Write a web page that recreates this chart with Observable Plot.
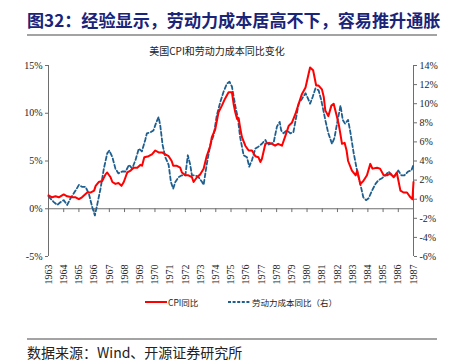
<!DOCTYPE html>
<html><head><meta charset="utf-8">
<script src="https://cdn.jsdelivr.net/npm/d3@7"></script>
<script src="https://cdn.jsdelivr.net/npm/@observablehq/plot@0.6"></script>
<style>
body{margin:0;background:#fff;}
#wrap{position:relative;width:453px;height:363px;overflow:hidden;font-family:"Noto Sans CJK SC",sans-serif;}
#title{position:absolute;left:27px;top:9px;font-size:17.1px;line-height:22px;font-weight:bold;color:#1a2478;white-space:nowrap;}
.rule{position:absolute;left:27px;width:410px;height:2px;background:#a3a3a3;}
#sub{position:absolute;left:0;width:434px;top:44px;line-height:14px;text-align:center;font-size:10px;color:#222;white-space:nowrap;}
#chart{position:absolute;left:0;top:40px;}
#chart svg text{font-family:"Liberation Serif","Times New Roman",serif !important;}
#legend{position:absolute;top:295px;left:0;width:453px;height:14px;font-size:8.5px;color:#222;}
#legend span{position:absolute;top:0;line-height:14px;white-space:nowrap;}
#legend svg{position:absolute;top:0;}
#src{position:absolute;left:27px;top:342px;font-size:14px;line-height:20px;color:#222;white-space:nowrap;}
</style></head>
<body>
<div id="wrap">
  <div id="title">图32：经验显示，劳动力成本居高不下，容易推升通胀</div>
  <div class="rule" style="top:34px"></div>
  <div id="sub">美国CPI和劳动力成本同比变化</div>
  <div id="chart"></div>
  <div id="legend">
    <svg width="25" height="14" style="left:144px"><line x1="1" y1="7" x2="23" y2="7" stroke="#ff0000" stroke-width="2"/></svg>
    <span style="left:168px">CPI同比</span>
    <svg width="25" height="14" style="left:227px"><line x1="1" y1="7" x2="23" y2="7" stroke="#1f5f8f" stroke-width="2" stroke-dasharray="3,1.6"/></svg>
    <span style="left:252px">劳动力成本同比（右）</span>
  </div>
  <div class="rule" style="top:338px"></div>
  <div id="src">数据来源：Wind、开源证券研究所</div>
</div>
<script>
const yearTicks = d3.range(1963, 1988);
const leftTicks = [-5, 0, 5, 10, 15];
const rightTicks = [-6, -4, -2, 0, 2, 4, 6, 8, 10, 12, 14];

const cpiYears = [1963.0,1963.24,1963.46,1963.68,1964.0,1964.23,1964.56,1964.78,1965.0,1965.2,1965.55,1965.76,1966.0,1966.1,1966.3,1966.53,1966.75,1966.86,1967.08,1967.2,1967.4,1967.6,1967.8,1967.95,1968.18,1968.4,1968.6,1968.84,1969.05,1969.15,1969.3,1969.58,1969.8,1970.02,1970.24,1970.46,1970.68,1970.9,1971.1,1971.2,1971.44,1971.66,1971.77,1972.0,1972.2,1972.43,1972.54,1972.76,1972.98,1973.2,1973.4,1973.64,1973.74,1973.96,1974.18,1974.4,1974.6,1974.84,1975.06,1975.17,1975.28,1975.4,1975.5,1975.6,1975.72,1975.94,1976.16,1976.38,1976.6,1976.8,1976.93,1977.03,1977.26,1977.5,1977.7,1977.9,1978.1,1978.35,1978.57,1978.8,1979.0,1979.23,1979.45,1979.66,1979.9,1980.1,1980.2,1980.4,1980.6,1980.76,1980.98,1981.1,1981.2,1981.4,1981.6,1981.75,1981.97,1982.1,1982.3,1982.47,1982.6,1982.7,1982.95,1983.2,1983.3,1983.5,1983.7,1983.94,1984.16,1984.3,1984.6,1984.8,1985.04,1985.26,1985.48,1985.7,1985.9,1986.14,1986.35,1986.57,1986.8,1986.93,1987.0];
const cpiValues = [1.4,1.2,1.3,1.2,1.5,1.3,1.2,1.2,1.0,1.2,1.7,1.7,1.9,2.4,2.8,2.9,3.6,3.8,3.3,2.8,2.6,2.7,2.4,2.8,3.8,4.0,4.3,4.3,4.6,4.5,5.4,5.5,5.7,6.1,5.9,5.9,5.7,5.5,5.0,4.5,4.5,4.3,3.8,3.5,3.5,3.3,2.8,3.3,3.6,4.2,5.5,6.6,7.5,8.3,10.1,10.8,11.5,12.2,12.2,11.0,10.1,9.4,9.5,8.5,7.5,6.6,6.1,6.1,5.5,5.4,4.9,5.2,6.8,6.9,6.8,6.6,6.8,6.6,7.6,8.7,9.0,9.9,11.0,12.0,12.7,14.1,14.8,14.5,12.9,12.9,12.5,11.7,10.3,9.7,10.8,11.0,9.6,8.7,6.8,6.9,6.1,5.0,4.0,3.5,4.0,2.6,2.9,3.5,4.7,4.2,4.3,4.2,3.5,3.5,3.7,3.3,3.8,1.9,1.7,1.7,1.2,1.0,2.8];

const laborYears = [1963.0,1963.35,1963.57,1963.8,1964.0,1964.23,1964.45,1964.78,1965.0,1965.2,1965.43,1965.65,1965.87,1966.05,1966.2,1966.42,1966.64,1966.86,1967.0,1967.2,1967.4,1967.6,1967.85,1968.07,1968.3,1968.5,1968.72,1968.94,1969.14,1969.36,1969.47,1969.7,1969.9,1970.1,1970.24,1970.35,1970.5,1970.68,1970.9,1971.05,1971.2,1971.34,1971.55,1971.77,1972.0,1972.16,1972.32,1972.43,1972.65,1972.87,1973.1,1973.2,1973.4,1973.64,1973.86,1974.07,1974.3,1974.5,1974.73,1974.9,1975.06,1975.28,1975.45,1975.6,1975.83,1976.05,1976.2,1976.38,1976.6,1976.8,1977.03,1977.26,1977.43,1977.6,1977.8,1978.02,1978.2,1978.3,1978.45,1978.67,1978.9,1979.1,1979.23,1979.45,1979.66,1979.9,1980.1,1980.2,1980.37,1980.55,1980.76,1980.93,1981.1,1981.2,1981.4,1981.64,1981.8,1981.97,1982.2,1982.35,1982.5,1982.7,1982.85,1983.07,1983.3,1983.5,1983.7,1983.88,1984.05,1984.27,1984.5,1984.7,1984.93,1985.15,1985.37,1985.55,1985.76,1986.0,1986.2,1986.4,1986.64,1986.86,1987.0];
const laborValues = [0.3,-0.3,-0.6,-0.3,-0.1,-0.6,0.1,0.9,1.5,1.3,1.3,0.6,-0.8,-1.7,-0.6,1.1,3.2,4.8,5.1,4.4,3.2,2.7,2.9,2.9,3.6,3.2,4.1,5.3,5.0,6.2,6.9,7.0,7.2,8.1,8.6,7.7,5.7,4.4,3.6,1.8,1.1,1.8,2.3,2.5,2.5,4.6,3.6,2.5,2.5,2.3,1.8,1.5,3.6,5.7,6.7,8.8,10.2,11.2,12.1,12.3,11.8,9.8,8.5,6.5,4.6,4.4,3.4,4.1,5.3,5.5,5.8,6.2,5.7,5.8,5.9,7.6,8.1,7.2,6.9,7.2,6.9,7.0,8.1,10.0,10.5,11.1,10.4,10.0,10.7,11.6,11.4,10.4,9.1,8.3,6.9,5.8,6.4,7.9,9.8,8.3,7.9,8.3,7.0,4.8,2.9,1.6,0.2,-0.1,0.1,0.9,1.6,2.0,2.2,2.5,2.9,2.5,2.4,3.0,2.5,2.5,2.9,3.0,3.6];

// right axis value r is drawn at left-scale position r + 1 (−6…14 vs −5…15)
const rightOffset = 1;

const cpiData = cpiYears.map((t, i) => ({t, v: cpiValues[i]}));
const laborData = laborYears.map((t, i) => ({t, v: laborValues[i]}));

const axisColor = "#6e6e6e";
const chart = Plot.plot({
  width: 453,
  height: 250,
  marginTop: 25,
  marginBottom: 34,
  marginLeft: 48,
  marginRight: 40,
  x: {domain: [1963, 1987], label: null},
  y: {domain: [-5, 15], label: null},
  style: {fontFamily: "'Liberation Serif', 'Times New Roman', serif", fontSize: "10px", color: "#222", background: "transparent", overflow: "visible"},
  marks: [
    Plot.ruleX([1963], {y1: -5, y2: 15, stroke: axisColor}),
    Plot.ruleX([1987], {y1: -5, y2: 15, stroke: axisColor}),
    Plot.ruleY([0], {x1: 1963, x2: 1987, stroke: axisColor}),
    Plot.ruleX(yearTicks, {x: d => d, y1: 0, y2: -0.4, stroke: axisColor}),
    Plot.axisY({anchor: "left", ticks: leftTicks, tickFormat: d => d + "%", tickSize: 3, tickPadding: 3, stroke: axisColor, label: null}),
    Plot.axisY({anchor: "right", ticks: rightTicks.map(v => v + rightOffset), tickFormat: d => (d - rightOffset) + "%", tickSize: 3, tickPadding: 3, stroke: axisColor, label: null}),
    Plot.axisX({anchor: "bottom", ticks: yearTicks, tickSize: 0, tickPadding: 8, tickRotate: -90, tickFormat: d => String(d), label: null}),
    Plot.line(laborData, {x: "t", y: d => d.v + rightOffset, stroke: "#1f5f8f", strokeWidth: 1.8, strokeDasharray: "4,2.5"}),
    Plot.line(cpiData, {x: "t", y: "v", stroke: "#ff0000", strokeWidth: 2})
  ]
});
document.getElementById("chart").appendChild(chart);
</script>
</body></html>
